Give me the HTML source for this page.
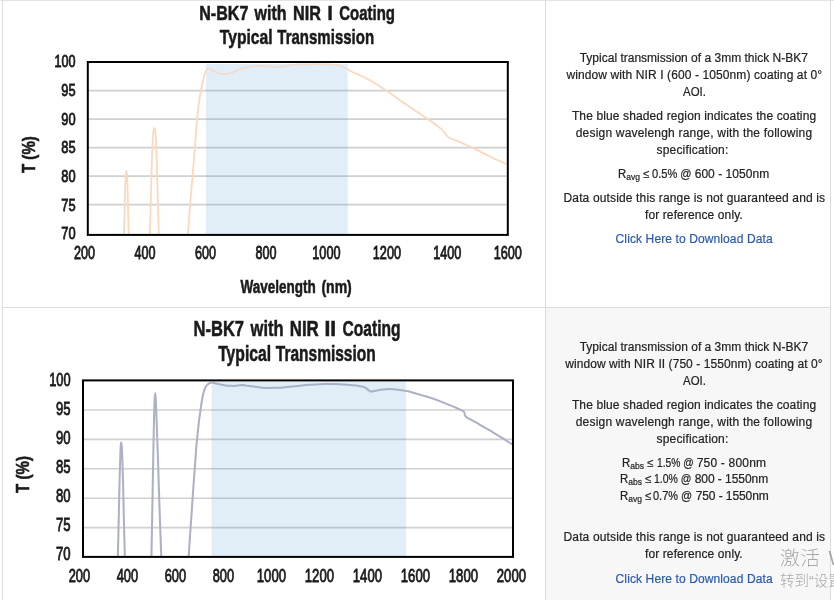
<!DOCTYPE html>
<html lang="en"><head><meta charset="utf-8"><title>N-BK7 NIR Coating Transmission</title>
<style>
html,body{margin:0;padding:0}
body{width:834px;height:600px;overflow:hidden;background:#fff;position:relative;font-family:"Liberation Sans",sans-serif;color:#262626}
.b{position:absolute;background:#dcdcdc}
.g{position:absolute;left:546px;top:308px;width:284px;height:292px;background:#f7f7f7}
.t{position:absolute;white-space:nowrap;font-size:12px;line-height:14px;height:14px;color:#222;text-decoration:none;-webkit-text-stroke:.2px #222}
.t sub{font-size:9px;line-height:0;vertical-align:-2px;letter-spacing:0}
.lk{color:#2b5bab;-webkit-text-stroke-color:#2b5bab}
.n{stroke:#1a1a1a;stroke-width:.85px}
.h{stroke:#1a1a1a;stroke-width:.55px}
.wm{position:absolute;left:780px;white-space:nowrap;font-family:"Liberation Sans","Noto Sans CJK SC",sans-serif;font-weight:300;color:rgba(120,120,120,.62)}
</style></head>
<body>
<div class="g"></div>
<div class="b" style="left:0;top:0;width:834px;height:1px;background:#e3e3e3"></div>
<div class="b" style="left:2px;top:0;width:1px;height:600px"></div>
<div class="b" style="left:545px;top:0;width:1px;height:600px"></div>
<div class="b" style="left:830px;top:0;width:1px;height:600px"></div>
<div class="b" style="left:2px;top:307px;width:829px;height:1px"></div>
<svg width="546" height="600" viewBox="0 0 546 600" style="position:absolute;left:0;top:0" font-family='"Liberation Sans", sans-serif' fill="#1a1a1a">
<clipPath id="cp1"><rect x="87.8" y="62" width="420.0" height="172.9"/></clipPath>
<clipPath id="cp1o"><rect x="87.8" y="62" width="118.2" height="172.9"/><rect x="347.7" y="62" width="160.10000000000002" height="172.9"/></clipPath>
<clipPath id="cp1i"><rect x="206" y="62" width="141.7" height="172.9"/></clipPath>
<line x1="87.8" x2="507.8" y1="90.6" y2="90.6" stroke="#d0d0d0" stroke-width="1.6"/>
<line x1="87.8" x2="507.8" y1="119.1" y2="119.1" stroke="#d0d0d0" stroke-width="1.6"/>
<line x1="87.8" x2="507.8" y1="147.6" y2="147.6" stroke="#d0d0d0" stroke-width="1.6"/>
<line x1="87.8" x2="507.8" y1="176.1" y2="176.1" stroke="#d0d0d0" stroke-width="1.6"/>
<line x1="87.8" x2="507.8" y1="204.6" y2="204.6" stroke="#d0d0d0" stroke-width="1.6"/>
<rect x="206" y="64" width="141.7" height="170.9" fill="#5b9bd5" fill-opacity="0.18"/>
<path d="M123.9 236.0 C124.0 231.7 124.4 218.5 124.6 210.0 C124.8 201.5 125.1 190.8 125.3 185.0 C125.5 179.2 125.6 177.3 125.8 175.0 C126.0 172.7 126.2 171.0 126.4 171.0 C126.6 171.0 126.8 172.7 127.0 175.0 C127.2 177.3 127.3 179.2 127.5 185.0 C127.7 190.8 127.9 201.5 128.1 210.0 C128.3 218.5 128.6 231.7 128.7 236.0" fill="none" stroke="#fad9be" stroke-width="1.8" stroke-linejoin="round" clip-path="url(#cp1)"/>
<path d="M149.8 236.0 C150.0 230.0 150.5 212.7 150.8 200.0 C151.2 187.3 151.6 170.3 151.9 160.0 C152.2 149.7 152.5 142.8 152.8 138.0 C153.1 133.2 153.2 132.7 153.5 131.0 C153.8 129.3 154.0 128.0 154.3 128.0 C154.6 128.0 154.8 129.3 155.1 131.0 C155.3 132.7 155.5 133.2 155.8 138.0 C156.1 142.8 156.4 149.7 156.7 160.0 C157.0 170.3 157.5 187.3 157.8 200.0 C158.2 212.7 158.6 230.0 158.8 236.0" fill="none" stroke="#fad9be" stroke-width="1.8" stroke-linejoin="round" clip-path="url(#cp1)"/>
<path d="M187.7 236.0 C188.1 231.0 189.2 215.9 190.0 206.0 C190.8 196.1 191.7 186.7 192.5 176.7 C193.3 166.7 194.2 155.8 195.0 146.0 C195.8 136.2 196.4 125.8 197.2 118.0 C197.9 110.2 198.7 104.5 199.5 99.0 C200.3 93.5 201.2 88.6 202.0 84.9 C202.8 81.2 203.4 79.2 204.0 77.0 C204.6 74.8 204.9 73.3 205.5 72.0 C206.1 70.7 206.8 69.5 207.5 69.0 C208.2 68.5 208.9 68.9 210.0 69.3 C211.1 69.7 212.5 70.5 214.0 71.2 C215.5 71.9 217.3 72.8 219.0 73.3 C220.7 73.8 222.3 74.2 224.0 74.2 C225.7 74.2 227.3 74.0 229.0 73.6 C230.7 73.2 232.2 72.5 234.0 71.8 C235.8 71.1 238.0 70.0 240.0 69.3 C242.0 68.6 243.9 67.9 246.0 67.4 C248.1 66.9 250.3 66.4 252.6 66.2 C254.9 66.0 257.4 66.0 260.0 66.0 C262.6 66.0 265.3 66.2 268.0 66.4 C270.7 66.6 273.7 66.9 276.0 66.9 C278.3 66.9 280.0 66.8 282.0 66.6 C284.0 66.4 285.8 65.9 288.0 65.6 C290.2 65.3 292.2 64.9 295.0 64.7 C297.8 64.5 301.2 64.5 305.0 64.4 C308.8 64.3 314.0 64.2 318.0 64.2 C322.0 64.2 326.0 64.2 329.0 64.3 C332.0 64.4 334.0 64.5 336.0 64.8 C338.0 65.1 339.3 65.7 341.0 66.3 C342.7 66.9 344.5 67.7 346.0 68.4 C347.5 69.1 348.3 69.8 350.0 70.7 C351.7 71.6 354.0 72.7 356.0 73.6 C358.0 74.5 360.0 75.4 362.0 76.3 C364.0 77.2 365.9 78.1 368.0 79.2 C370.1 80.3 372.5 81.8 374.5 83.0 C376.5 84.2 378.0 85.2 380.0 86.5 C382.0 87.8 383.9 88.9 386.4 90.6 C388.9 92.3 391.9 94.5 395.0 96.7 C398.1 98.9 401.4 101.3 404.7 103.6 C408.0 105.9 411.4 108.2 415.0 110.6 C418.6 113.0 423.3 116.0 426.3 118.0 C429.3 120.0 430.6 121.1 433.0 122.8 C435.4 124.5 438.6 126.9 440.4 128.4 C442.2 129.9 442.9 130.7 444.0 132.0 C445.1 133.3 446.1 135.0 447.0 136.0 C447.9 137.0 448.2 137.3 449.5 138.0 C450.8 138.7 453.1 139.4 455.0 140.2 C456.9 141.0 458.9 141.8 460.9 142.6 C462.9 143.4 464.9 144.2 467.0 145.2 C469.1 146.2 471.3 147.2 473.8 148.4 C476.3 149.6 479.1 151.2 482.0 152.6 C484.9 154.0 488.2 155.6 491.0 157.0 C493.8 158.4 496.4 159.6 499.0 160.8 C501.6 162.0 505.2 163.7 506.5 164.3" fill="none" stroke="#fad9be" stroke-width="1.8" stroke-linejoin="round" clip-path="url(#cp1o)"/>
<path d="M187.7 236.0 C188.1 231.0 189.2 215.9 190.0 206.0 C190.8 196.1 191.7 186.7 192.5 176.7 C193.3 166.7 194.2 155.8 195.0 146.0 C195.8 136.2 196.4 125.8 197.2 118.0 C197.9 110.2 198.7 104.5 199.5 99.0 C200.3 93.5 201.2 88.6 202.0 84.9 C202.8 81.2 203.4 79.2 204.0 77.0 C204.6 74.8 204.9 73.3 205.5 72.0 C206.1 70.7 206.8 69.5 207.5 69.0 C208.2 68.5 208.9 68.9 210.0 69.3 C211.1 69.7 212.5 70.5 214.0 71.2 C215.5 71.9 217.3 72.8 219.0 73.3 C220.7 73.8 222.3 74.2 224.0 74.2 C225.7 74.2 227.3 74.0 229.0 73.6 C230.7 73.2 232.2 72.5 234.0 71.8 C235.8 71.1 238.0 70.0 240.0 69.3 C242.0 68.6 243.9 67.9 246.0 67.4 C248.1 66.9 250.3 66.4 252.6 66.2 C254.9 66.0 257.4 66.0 260.0 66.0 C262.6 66.0 265.3 66.2 268.0 66.4 C270.7 66.6 273.7 66.9 276.0 66.9 C278.3 66.9 280.0 66.8 282.0 66.6 C284.0 66.4 285.8 65.9 288.0 65.6 C290.2 65.3 292.2 64.9 295.0 64.7 C297.8 64.5 301.2 64.5 305.0 64.4 C308.8 64.3 314.0 64.2 318.0 64.2 C322.0 64.2 326.0 64.2 329.0 64.3 C332.0 64.4 334.0 64.5 336.0 64.8 C338.0 65.1 339.3 65.7 341.0 66.3 C342.7 66.9 344.5 67.7 346.0 68.4 C347.5 69.1 348.3 69.8 350.0 70.7 C351.7 71.6 354.0 72.7 356.0 73.6 C358.0 74.5 360.0 75.4 362.0 76.3 C364.0 77.2 365.9 78.1 368.0 79.2 C370.1 80.3 372.5 81.8 374.5 83.0 C376.5 84.2 378.0 85.2 380.0 86.5 C382.0 87.8 383.9 88.9 386.4 90.6 C388.9 92.3 391.9 94.5 395.0 96.7 C398.1 98.9 401.4 101.3 404.7 103.6 C408.0 105.9 411.4 108.2 415.0 110.6 C418.6 113.0 423.3 116.0 426.3 118.0 C429.3 120.0 430.6 121.1 433.0 122.8 C435.4 124.5 438.6 126.9 440.4 128.4 C442.2 129.9 442.9 130.7 444.0 132.0 C445.1 133.3 446.1 135.0 447.0 136.0 C447.9 137.0 448.2 137.3 449.5 138.0 C450.8 138.7 453.1 139.4 455.0 140.2 C456.9 141.0 458.9 141.8 460.9 142.6 C462.9 143.4 464.9 144.2 467.0 145.2 C469.1 146.2 471.3 147.2 473.8 148.4 C476.3 149.6 479.1 151.2 482.0 152.6 C484.9 154.0 488.2 155.6 491.0 157.0 C493.8 158.4 496.4 159.6 499.0 160.8 C501.6 162.0 505.2 163.7 506.5 164.3" fill="none" stroke="#efdccd" stroke-width="1.8" stroke-linejoin="round" clip-path="url(#cp1i)"/>
<rect x="87.8" y="62" width="420.0" height="172.9" fill="none" stroke="#000" stroke-width="2"/>
<clipPath id="cp2"><rect x="83" y="380.4" width="430.0" height="176.5"/></clipPath>
<clipPath id="cp2o"><rect x="83" y="380.4" width="128.6" height="176.5"/><rect x="406" y="380.4" width="107.0" height="176.5"/></clipPath>
<clipPath id="cp2i"><rect x="211.6" y="380.4" width="194.4" height="176.5"/></clipPath>
<line x1="83" x2="513.0" y1="410.0" y2="410.0" stroke="#d0d0d0" stroke-width="1.6"/>
<line x1="83" x2="513.0" y1="439.4" y2="439.4" stroke="#d0d0d0" stroke-width="1.6"/>
<line x1="83" x2="513.0" y1="468.8" y2="468.8" stroke="#d0d0d0" stroke-width="1.6"/>
<line x1="83" x2="513.0" y1="498.2" y2="498.2" stroke="#d0d0d0" stroke-width="1.6"/>
<line x1="83" x2="513.0" y1="527.6" y2="527.6" stroke="#d0d0d0" stroke-width="1.6"/>
<rect x="211.6" y="381.6" width="194.4" height="175.29999999999995" fill="#5b9bd5" fill-opacity="0.18"/>
<path d="M117.8 558.0 C118.0 551.7 118.4 533.0 118.7 520.0 C119.0 507.0 119.3 490.8 119.6 480.0 C119.9 469.2 120.1 460.7 120.3 455.0 C120.5 449.3 120.5 448.1 120.7 446.0 C120.9 443.9 121.0 442.5 121.2 442.5 C121.4 442.5 121.5 443.9 121.7 446.0 C121.9 448.1 122.0 449.3 122.2 455.0 C122.4 460.7 122.7 469.2 123.0 480.0 C123.3 490.8 123.6 507.0 123.9 520.0 C124.2 533.0 124.7 551.7 124.9 558.0" fill="none" stroke="#adb1c3" stroke-width="2.05" stroke-linejoin="round" clip-path="url(#cp2)"/>
<path d="M151.4 558.0 C151.6 550.0 152.0 526.3 152.3 510.0 C152.6 493.7 152.9 475.0 153.2 460.0 C153.5 445.0 153.8 429.7 154.0 420.0 C154.2 410.3 154.3 406.5 154.5 402.0 C154.7 397.5 155.0 393.0 155.2 393.0 C155.4 393.0 155.7 397.5 155.9 402.0 C156.1 406.5 156.2 410.3 156.6 420.0 C156.9 429.7 157.5 445.0 158.0 460.0 C158.5 475.0 159.0 493.7 159.6 510.0 C160.2 526.3 161.0 550.0 161.3 558.0" fill="none" stroke="#adb1c3" stroke-width="2.05" stroke-linejoin="round" clip-path="url(#cp2)"/>
<path d="M188.6 558.0 C188.8 554.3 189.5 543.7 190.0 536.0 C190.5 528.3 191.1 520.0 191.7 512.0 C192.2 504.0 192.8 495.8 193.3 488.0 C193.9 480.2 194.5 471.8 195.0 465.0 C195.5 458.2 195.9 452.0 196.3 447.0 C196.7 442.0 197.1 439.3 197.5 435.0 C197.9 430.7 198.5 425.2 199.0 421.0 C199.5 416.8 200.1 413.2 200.5 410.0 C200.9 406.8 201.3 404.5 201.7 402.0 C202.1 399.5 202.6 396.9 203.0 395.0 C203.4 393.1 203.8 391.9 204.2 390.6 C204.6 389.3 205.1 388.2 205.5 387.3 C205.9 386.4 206.3 385.8 206.7 385.3 C207.1 384.8 207.5 384.5 208.0 384.1 C208.5 383.8 209.0 383.4 209.5 383.2 C210.0 383.0 210.4 382.9 211.0 382.8 C211.6 382.7 212.3 382.7 213.0 382.8 C213.7 382.9 214.2 383.0 215.0 383.2 C215.8 383.4 216.8 383.6 218.0 383.9 C219.2 384.2 220.7 384.6 222.0 384.8 C223.3 385.1 224.7 385.2 226.0 385.4 C227.3 385.6 228.7 385.7 230.0 385.8 C231.3 385.9 232.8 385.9 234.0 385.9 C235.2 385.9 236.0 385.7 237.0 385.6 C238.0 385.5 239.0 385.3 240.0 385.2 C241.0 385.1 242.0 385.1 243.0 385.1 C244.0 385.1 244.8 385.2 246.0 385.4 C247.2 385.5 248.5 385.8 250.0 386.0 C251.5 386.2 253.3 386.6 255.0 386.8 C256.7 387.1 258.2 387.3 260.0 387.5 C261.8 387.7 263.3 387.8 266.0 387.9 C268.7 387.9 272.8 387.9 276.0 387.8 C279.2 387.7 281.8 387.5 285.0 387.2 C288.2 386.9 291.5 386.5 295.0 386.2 C298.5 385.9 302.3 385.4 305.8 385.1 C309.3 384.8 312.5 384.6 316.0 384.4 C319.5 384.2 323.8 384.1 327.0 384.0 C330.2 383.9 332.3 384.0 335.0 384.1 C337.7 384.2 340.2 384.3 343.0 384.5 C345.8 384.7 349.3 385.0 352.0 385.2 C354.7 385.4 357.2 385.6 359.0 385.9 C360.8 386.2 361.8 386.4 363.0 386.8 C364.2 387.2 365.1 387.6 366.0 388.2 C366.9 388.8 367.7 389.6 368.5 390.2 C369.3 390.8 370.1 391.5 371.0 391.6 C371.9 391.7 372.8 391.2 374.0 391.0 C375.2 390.8 376.3 390.4 378.0 390.2 C379.7 389.9 382.0 389.7 384.0 389.5 C386.0 389.3 388.0 389.0 390.0 389.0 C392.0 389.0 394.0 389.2 396.0 389.4 C398.0 389.6 400.2 390.0 402.0 390.3 C403.8 390.6 404.6 390.6 406.8 391.1 C409.0 391.6 412.2 392.5 415.0 393.3 C417.8 394.1 420.8 394.9 423.6 395.7 C426.4 396.5 429.2 397.4 432.0 398.3 C434.8 399.2 437.6 400.3 440.4 401.4 C443.2 402.5 446.2 403.8 449.0 404.9 C451.8 406.0 455.3 407.5 457.1 408.3 C458.9 409.1 459.1 409.1 460.0 409.5 C460.9 409.9 461.8 410.2 462.4 410.6 C463.0 411.0 463.4 411.2 463.8 411.6 C464.2 412.0 464.3 412.4 464.5 412.9 C464.7 413.4 464.7 414.1 464.8 414.6 C464.9 415.1 465.0 415.6 465.4 416.1 C465.8 416.6 466.4 417.1 467.2 417.6 C468.0 418.1 468.9 418.6 470.0 419.2 C471.1 419.8 472.3 420.5 474.0 421.4 C475.7 422.3 478.0 423.6 480.0 424.8 C482.0 426.0 483.9 427.0 486.1 428.3 C488.3 429.6 490.7 431.0 493.0 432.4 C495.3 433.8 497.8 435.4 500.0 436.7 C502.2 438.0 503.9 439.1 506.0 440.4 C508.1 441.7 511.4 443.8 512.5 444.5" fill="none" stroke="#adb1c3" stroke-width="2.05" stroke-linejoin="round" clip-path="url(#cp2o)"/>
<path d="M188.6 558.0 C188.8 554.3 189.5 543.7 190.0 536.0 C190.5 528.3 191.1 520.0 191.7 512.0 C192.2 504.0 192.8 495.8 193.3 488.0 C193.9 480.2 194.5 471.8 195.0 465.0 C195.5 458.2 195.9 452.0 196.3 447.0 C196.7 442.0 197.1 439.3 197.5 435.0 C197.9 430.7 198.5 425.2 199.0 421.0 C199.5 416.8 200.1 413.2 200.5 410.0 C200.9 406.8 201.3 404.5 201.7 402.0 C202.1 399.5 202.6 396.9 203.0 395.0 C203.4 393.1 203.8 391.9 204.2 390.6 C204.6 389.3 205.1 388.2 205.5 387.3 C205.9 386.4 206.3 385.8 206.7 385.3 C207.1 384.8 207.5 384.5 208.0 384.1 C208.5 383.8 209.0 383.4 209.5 383.2 C210.0 383.0 210.4 382.9 211.0 382.8 C211.6 382.7 212.3 382.7 213.0 382.8 C213.7 382.9 214.2 383.0 215.0 383.2 C215.8 383.4 216.8 383.6 218.0 383.9 C219.2 384.2 220.7 384.6 222.0 384.8 C223.3 385.1 224.7 385.2 226.0 385.4 C227.3 385.6 228.7 385.7 230.0 385.8 C231.3 385.9 232.8 385.9 234.0 385.9 C235.2 385.9 236.0 385.7 237.0 385.6 C238.0 385.5 239.0 385.3 240.0 385.2 C241.0 385.1 242.0 385.1 243.0 385.1 C244.0 385.1 244.8 385.2 246.0 385.4 C247.2 385.5 248.5 385.8 250.0 386.0 C251.5 386.2 253.3 386.6 255.0 386.8 C256.7 387.1 258.2 387.3 260.0 387.5 C261.8 387.7 263.3 387.8 266.0 387.9 C268.7 387.9 272.8 387.9 276.0 387.8 C279.2 387.7 281.8 387.5 285.0 387.2 C288.2 386.9 291.5 386.5 295.0 386.2 C298.5 385.9 302.3 385.4 305.8 385.1 C309.3 384.8 312.5 384.6 316.0 384.4 C319.5 384.2 323.8 384.1 327.0 384.0 C330.2 383.9 332.3 384.0 335.0 384.1 C337.7 384.2 340.2 384.3 343.0 384.5 C345.8 384.7 349.3 385.0 352.0 385.2 C354.7 385.4 357.2 385.6 359.0 385.9 C360.8 386.2 361.8 386.4 363.0 386.8 C364.2 387.2 365.1 387.6 366.0 388.2 C366.9 388.8 367.7 389.6 368.5 390.2 C369.3 390.8 370.1 391.5 371.0 391.6 C371.9 391.7 372.8 391.2 374.0 391.0 C375.2 390.8 376.3 390.4 378.0 390.2 C379.7 389.9 382.0 389.7 384.0 389.5 C386.0 389.3 388.0 389.0 390.0 389.0 C392.0 389.0 394.0 389.2 396.0 389.4 C398.0 389.6 400.2 390.0 402.0 390.3 C403.8 390.6 404.6 390.6 406.8 391.1 C409.0 391.6 412.2 392.5 415.0 393.3 C417.8 394.1 420.8 394.9 423.6 395.7 C426.4 396.5 429.2 397.4 432.0 398.3 C434.8 399.2 437.6 400.3 440.4 401.4 C443.2 402.5 446.2 403.8 449.0 404.9 C451.8 406.0 455.3 407.5 457.1 408.3 C458.9 409.1 459.1 409.1 460.0 409.5 C460.9 409.9 461.8 410.2 462.4 410.6 C463.0 411.0 463.4 411.2 463.8 411.6 C464.2 412.0 464.3 412.4 464.5 412.9 C464.7 413.4 464.7 414.1 464.8 414.6 C464.9 415.1 465.0 415.6 465.4 416.1 C465.8 416.6 466.4 417.1 467.2 417.6 C468.0 418.1 468.9 418.6 470.0 419.2 C471.1 419.8 472.3 420.5 474.0 421.4 C475.7 422.3 478.0 423.6 480.0 424.8 C482.0 426.0 483.9 427.0 486.1 428.3 C488.3 429.6 490.7 431.0 493.0 432.4 C495.3 433.8 497.8 435.4 500.0 436.7 C502.2 438.0 503.9 439.1 506.0 440.4 C508.1 441.7 511.4 443.8 512.5 444.5" fill="none" stroke="#aab0c6" stroke-width="2.05" stroke-linejoin="round" clip-path="url(#cp2i)"/>
<rect x="83" y="380.4" width="430.0" height="176.5" fill="none" stroke="#000" stroke-width="2"/>
<text x="199.2" y="19.5" font-size="21" font-weight="bold" textLength="49.2" lengthAdjust="spacingAndGlyphs" class="h">N-BK7</text>
<text x="254.6" y="19.5" font-size="21" font-weight="bold" textLength="32.0" lengthAdjust="spacingAndGlyphs" class="h">with</text>
<text x="293.0" y="19.5" font-size="21" font-weight="bold" textLength="27.9" lengthAdjust="spacingAndGlyphs" class="h">NIR</text>
<text x="327.4" y="19.5" font-size="21" font-weight="bold" textLength="5.2" lengthAdjust="spacingAndGlyphs" class="h">I</text>
<text x="339.2" y="19.5" font-size="21" font-weight="bold" textLength="55.8" lengthAdjust="spacingAndGlyphs" class="h">Coating</text>
<text x="219.8" y="43.8" font-size="21" font-weight="bold" textLength="52.8" lengthAdjust="spacingAndGlyphs" class="h">Typical</text>
<text x="277.3" y="43.8" font-size="21" font-weight="bold" textLength="96.8" lengthAdjust="spacingAndGlyphs" class="h">Transmission</text>
<text x="193.6" y="336.3" font-size="21.6" font-weight="bold" textLength="50.4" lengthAdjust="spacingAndGlyphs" class="h">N-BK7</text>
<text x="250.6" y="336.3" font-size="21.6" font-weight="bold" textLength="33.0" lengthAdjust="spacingAndGlyphs" class="h">with</text>
<text x="289.7" y="336.3" font-size="21.6" font-weight="bold" textLength="29.1" lengthAdjust="spacingAndGlyphs" class="h">NIR</text>
<text x="324.4" y="336.3" font-size="21.6" font-weight="bold" textLength="11.7" lengthAdjust="spacingAndGlyphs" class="h">II</text>
<text x="342.6" y="336.3" font-size="21.6" font-weight="bold" textLength="58.0" lengthAdjust="spacingAndGlyphs" class="h">Coating</text>
<text x="218.2" y="361.4" font-size="21.6" font-weight="bold" textLength="52.9" lengthAdjust="spacingAndGlyphs" class="h">Typical</text>
<text x="275.8" y="361.4" font-size="21.6" font-weight="bold" textLength="99.9" lengthAdjust="spacingAndGlyphs" class="h">Transmission</text>
<text x="75.6" y="67.4" font-size="17.1" font-weight="normal" text-anchor="end" textLength="21" lengthAdjust="spacingAndGlyphs" class="n">100</text>
<text x="75.6" y="96.1" font-size="17.1" font-weight="normal" text-anchor="end" textLength="14.3" lengthAdjust="spacingAndGlyphs" class="n">95</text>
<text x="75.6" y="124.7" font-size="17.1" font-weight="normal" text-anchor="end" textLength="14.3" lengthAdjust="spacingAndGlyphs" class="n">90</text>
<text x="75.6" y="153.3" font-size="17.1" font-weight="normal" text-anchor="end" textLength="14.3" lengthAdjust="spacingAndGlyphs" class="n">85</text>
<text x="75.6" y="182.0" font-size="17.1" font-weight="normal" text-anchor="end" textLength="14.3" lengthAdjust="spacingAndGlyphs" class="n">80</text>
<text x="75.6" y="210.7" font-size="17.1" font-weight="normal" text-anchor="end" textLength="14.3" lengthAdjust="spacingAndGlyphs" class="n">75</text>
<text x="75.6" y="239.3" font-size="17.1" font-weight="normal" text-anchor="end" textLength="14.3" lengthAdjust="spacingAndGlyphs" class="n">70</text>
<text x="70.6" y="385.9" font-size="18.1" font-weight="normal" text-anchor="end" textLength="21.4" lengthAdjust="spacingAndGlyphs" class="n">100</text>
<text x="70.6" y="415.0" font-size="18.1" font-weight="normal" text-anchor="end" textLength="14.6" lengthAdjust="spacingAndGlyphs" class="n">95</text>
<text x="70.6" y="444.1" font-size="18.1" font-weight="normal" text-anchor="end" textLength="14.6" lengthAdjust="spacingAndGlyphs" class="n">90</text>
<text x="70.6" y="473.1" font-size="18.1" font-weight="normal" text-anchor="end" textLength="14.6" lengthAdjust="spacingAndGlyphs" class="n">85</text>
<text x="70.6" y="502.2" font-size="18.1" font-weight="normal" text-anchor="end" textLength="14.6" lengthAdjust="spacingAndGlyphs" class="n">80</text>
<text x="70.6" y="531.3" font-size="18.1" font-weight="normal" text-anchor="end" textLength="14.6" lengthAdjust="spacingAndGlyphs" class="n">75</text>
<text x="70.6" y="560.4" font-size="18.1" font-weight="normal" text-anchor="end" textLength="14.6" lengthAdjust="spacingAndGlyphs" class="n">70</text>
<text x="84.6" y="258.8" font-size="17.5" font-weight="normal" text-anchor="middle" textLength="21" lengthAdjust="spacingAndGlyphs" class="n">200</text>
<text x="145.1" y="258.8" font-size="17.5" font-weight="normal" text-anchor="middle" textLength="21" lengthAdjust="spacingAndGlyphs" class="n">400</text>
<text x="205.5" y="258.8" font-size="17.5" font-weight="normal" text-anchor="middle" textLength="21" lengthAdjust="spacingAndGlyphs" class="n">600</text>
<text x="266.0" y="258.8" font-size="17.5" font-weight="normal" text-anchor="middle" textLength="21" lengthAdjust="spacingAndGlyphs" class="n">800</text>
<text x="326.4" y="258.8" font-size="17.5" font-weight="normal" text-anchor="middle" textLength="28.2" lengthAdjust="spacingAndGlyphs" class="n">1000</text>
<text x="386.9" y="258.8" font-size="17.5" font-weight="normal" text-anchor="middle" textLength="28.2" lengthAdjust="spacingAndGlyphs" class="n">1200</text>
<text x="447.3" y="258.8" font-size="17.5" font-weight="normal" text-anchor="middle" textLength="28.2" lengthAdjust="spacingAndGlyphs" class="n">1400</text>
<text x="507.8" y="258.8" font-size="17.5" font-weight="normal" text-anchor="middle" textLength="28.2" lengthAdjust="spacingAndGlyphs" class="n">1600</text>
<text x="79.4" y="581.7" font-size="18.1" font-weight="normal" text-anchor="middle" textLength="21.4" lengthAdjust="spacingAndGlyphs" class="n">200</text>
<text x="127.4" y="581.7" font-size="18.1" font-weight="normal" text-anchor="middle" textLength="21.4" lengthAdjust="spacingAndGlyphs" class="n">400</text>
<text x="175.4" y="581.7" font-size="18.1" font-weight="normal" text-anchor="middle" textLength="21.4" lengthAdjust="spacingAndGlyphs" class="n">600</text>
<text x="223.4" y="581.7" font-size="18.1" font-weight="normal" text-anchor="middle" textLength="21.4" lengthAdjust="spacingAndGlyphs" class="n">800</text>
<text x="271.4" y="581.7" font-size="18.1" font-weight="normal" text-anchor="middle" textLength="29.2" lengthAdjust="spacingAndGlyphs" class="n">1000</text>
<text x="319.4" y="581.7" font-size="18.1" font-weight="normal" text-anchor="middle" textLength="29.2" lengthAdjust="spacingAndGlyphs" class="n">1200</text>
<text x="367.4" y="581.7" font-size="18.1" font-weight="normal" text-anchor="middle" textLength="29.2" lengthAdjust="spacingAndGlyphs" class="n">1400</text>
<text x="415.4" y="581.7" font-size="18.1" font-weight="normal" text-anchor="middle" textLength="29.2" lengthAdjust="spacingAndGlyphs" class="n">1600</text>
<text x="463.4" y="581.7" font-size="18.1" font-weight="normal" text-anchor="middle" textLength="29.2" lengthAdjust="spacingAndGlyphs" class="n">1800</text>
<text x="511.4" y="581.7" font-size="18.1" font-weight="normal" text-anchor="middle" textLength="29.2" lengthAdjust="spacingAndGlyphs" class="n">2000</text>
<text x="240.6" y="292.6" font-size="18" font-weight="bold" textLength="75.2" lengthAdjust="spacingAndGlyphs" class="h">Wavelength</text>
<text x="321.4" y="292.6" font-size="18" font-weight="bold" textLength="30.4" lengthAdjust="spacingAndGlyphs" class="h">(nm)</text>
<text transform="translate(35 154.6) rotate(-90)" font-size="18" font-weight="bold" class="h" text-anchor="middle" textLength="37" lengthAdjust="spacingAndGlyphs">T (%)</text>
<text transform="translate(29 474.4) rotate(-90)" font-size="18" font-weight="bold" class="h" text-anchor="middle" textLength="37" lengthAdjust="spacingAndGlyphs">T (%)</text>
</svg>
<div class="t" style="left:579.7px;top:51px;letter-spacing:0.003px">Typical transmission of a 3mm thick N-BK7</div>
<div class="t" style="left:566.5px;top:68px;letter-spacing:0.104px">window with NIR I (600 - 1050nm) coating at 0°</div>
<div class="t" style="left:683.1px;top:85px;letter-spacing:0.000px;transform:scaleX(0.9535);transform-origin:0 0">AOI.</div>
<div class="t" style="left:571.9px;top:109px;letter-spacing:0.125px">The blue shaded region indicates the coating</div>
<div class="t" style="left:575.7px;top:126px;letter-spacing:0.201px">design wavelengh range, with the following</div>
<div class="t" style="left:656.5px;top:143px;letter-spacing:0.187px">specification:</div>
<div class="t" style="left:618.2px;top:167px;letter-spacing:0.000px;transform:scaleX(0.9484);transform-origin:0 0">R<sub>avg</sub> ≤</div>
<div class="t" style="left:652.4px;top:167px;letter-spacing:0.000px;transform:scaleX(0.9236);transform-origin:0 0">0.5% @</div>
<div class="t" style="left:694.7px;top:167px;letter-spacing:0.040px">600 - 1050nm</div>
<div class="t" style="left:563.5px;top:191px;letter-spacing:0.144px">Data outside this range is not guaranteed and is</div>
<div class="t" style="left:645.0px;top:208px;letter-spacing:0.104px">for reference only.</div>
<a class="t lk" href="#" style="left:615.6px;top:232px;letter-spacing:0.112px">Click Here to Download Data</a>
<div class="t" style="left:579.7px;top:340px;letter-spacing:0.008px">Typical transmission of a 3mm thick N-BK7</div>
<div class="t" style="left:565.3px;top:357px;letter-spacing:0.066px">window with NIR II (750 - 1550nm) coating at 0°</div>
<div class="t" style="left:683.1px;top:374px;letter-spacing:0.000px;transform:scaleX(0.9535);transform-origin:0 0">AOI.</div>
<div class="t" style="left:571.9px;top:398px;letter-spacing:0.125px">The blue shaded region indicates the coating</div>
<div class="t" style="left:575.7px;top:415px;letter-spacing:0.201px">design wavelengh range, with the following</div>
<div class="t" style="left:656.5px;top:432px;letter-spacing:0.187px">specification:</div>
<div class="t" style="left:622.2px;top:456px;letter-spacing:0.000px;transform:scaleX(0.9514);transform-origin:0 0">R<sub>abs</sub> ≤</div>
<div class="t" style="left:656.9px;top:456px;letter-spacing:0.000px;transform:scaleX(0.8536);transform-origin:0 0">1.5% @</div>
<div class="t" style="left:696.7px;top:456px;letter-spacing:0.201px">750 - 800nm</div>
<div class="t" style="left:619.8px;top:472px;letter-spacing:0.000px;transform:scaleX(0.9484);transform-origin:0 0">R<sub>abs</sub> ≤</div>
<div class="t" style="left:653.9px;top:472px;letter-spacing:0.000px;transform:scaleX(0.8746);transform-origin:0 0">1.0% @</div>
<div class="t" style="left:694.7px;top:472px;letter-spacing:-0.051px">800 - 1550nm</div>
<div class="t" style="left:619.8px;top:489px;letter-spacing:0.000px;transform:scaleX(0.9484);transform-origin:0 0">R<sub>avg</sub> ≤</div>
<div class="t" style="left:653.3px;top:489px;letter-spacing:0.000px;transform:scaleX(0.9120);transform-origin:0 0">0.7% @</div>
<div class="t" style="left:695.7px;top:489px;letter-spacing:-0.088px">750 - 1550nm</div>
<div class="t" style="left:563.5px;top:530px;letter-spacing:0.144px">Data outside this range is not guaranteed and is</div>
<div class="t" style="left:645.0px;top:547px;letter-spacing:0.104px">for reference only.</div>
<a class="t lk" href="#" style="left:615.6px;top:572px;letter-spacing:0.112px">Click Here to Download Data</a>
<div class="wm" style="top:544px;font-size:19.8px;line-height:28px;letter-spacing:.5px;word-spacing:2px">激活 Windows</div>
<div class="wm" style="top:570.7px;font-size:14.5px;line-height:20px">转到“设置”以激活 Windows。</div>
</body></html>
